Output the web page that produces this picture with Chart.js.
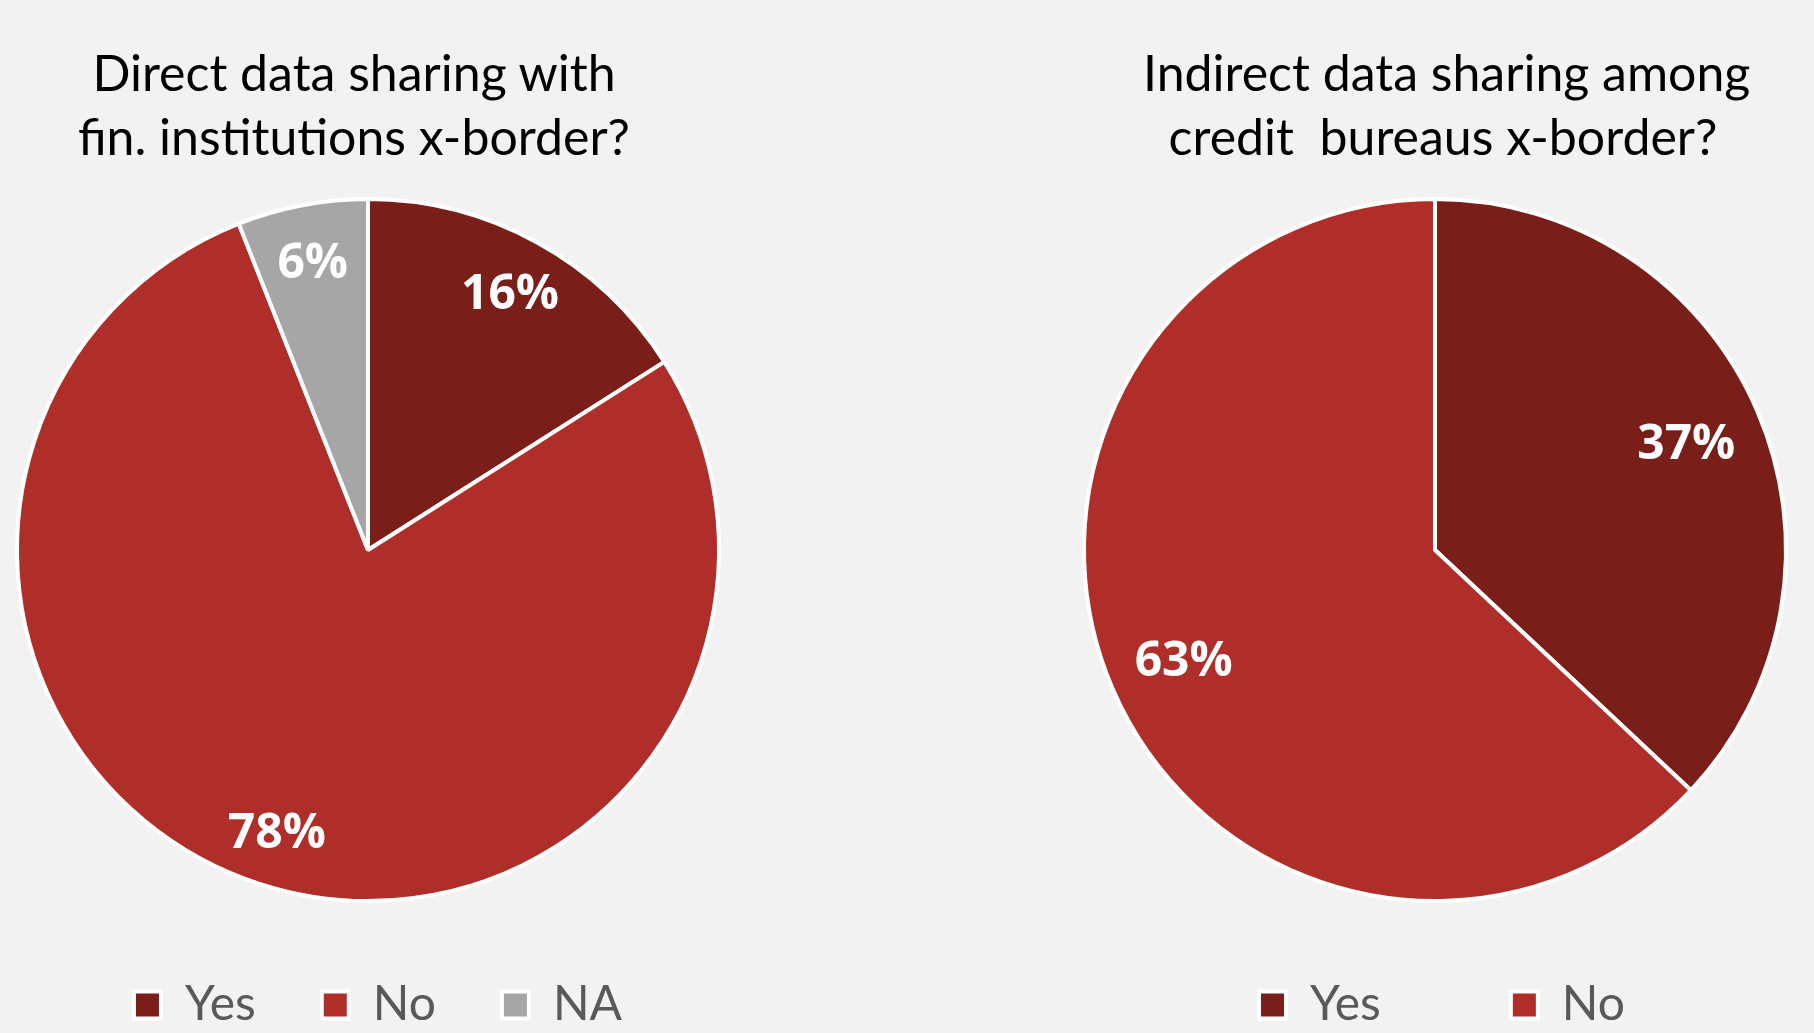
<!DOCTYPE html>
<html>
<head>
<meta charset="utf-8">
<script src="https://cdn.jsdelivr.net/npm/chart.js@4.4.1/dist/chart.umd.min.js"></script>
<style>
  html, body { margin: 0; padding: 0; background: #F2F2F2; width: 1814px; height: 1033px; overflow: hidden; }
  .wrap { position: absolute; top: 0; height: 1033px; width: 736px; }
  .title { position: absolute; top: 0; font-family: Lato, "Open Sans", sans-serif; font-size: 50px; line-height: 64px; color: #000; text-align: center; white-space: pre; }
</style>
</head>
<body>
<div class="title" id="t1" style="left:54px; width:600px; top:40px;">Direct data sharing with
fin. institutions x-border?</div>
<div class="title" id="t2" style="left:1143px; width:600px; top:40px;">Indirect data sharing among
credit  bureaus x-border?</div>
<div class="wrap" style="left:0px;"><canvas id="c1"></canvas></div>
<div class="wrap" style="left:1067px;"><canvas id="c2"></canvas></div>
<script>
// ---- data ----
const labelsDirect = ["Yes", "No", "NA"];
const valuesDirect = [16, 78, 6];
const labelsIndirect = ["Yes", "No"];
const valuesIndirect = [37, 63];
const colorsDirect = ["#7A1E1A", "#B02E29", "#A6A6A6"];
const colorsIndirect = ["#7A1E1A", "#B02E29"];

const pctLabels = {
  id: 'pctLabels',
  afterDatasetsDraw(chart, args, opts) {
    const ctx = chart.ctx;
    const meta = chart.getDatasetMeta(0);
    const data = chart.data.datasets[0].data;
    const total = data.reduce((a, b) => a + b, 0);
    ctx.save();
    ctx.fillStyle = '#FFFFFF';
    ctx.font = 'bold 48px "Open Sans", sans-serif';
    ctx.textAlign = 'center';
    ctx.textBaseline = 'middle';
    meta.data.forEach((arc, i) => {
      const p = arc.getProps(['x', 'y', 'startAngle', 'endAngle', 'outerRadius'], true);
      const mid = (p.startAngle + p.endAngle) / 2;
      const r = p.outerRadius * opts.frac;
      const txt = Math.round(data[i] / total * 100) + '%';
      ctx.fillText(txt, p.x + Math.cos(mid) * r, p.y + Math.sin(mid) * r + 4);
    });
    ctx.restore();
  }
};

// moves the built-in legend box after layout (keeps pie geometry untouched)
const legendShift = {
  id: 'legendShift',
  afterLayout(chart, args, opts) {
    const lg = chart.legend;
    if (!lg) return;
    lg.left += opts.dx; lg.right += opts.dx;
    lg.top += opts.dy; lg.bottom += opts.dy;
  }
};

function makePie(id, labels, values, colors, frac, legendPad, padBottom, dx, dy) {
  return new Chart(document.getElementById(id), {
    type: 'pie',
    data: {
      labels: labels,
      datasets: [{
        data: values,
        backgroundColor: colors,
        borderColor: '#FFFFFF',
        borderWidth: 4
      }]
    },
    options: {
      responsive: true,
      maintainAspectRatio: false,
      animation: false,
      layout: { padding: { top: 185, bottom: padBottom, left: 15, right: 15 } },
      plugins: {
        tooltip: { enabled: false },
        title: { display: false },
        pctLabels: { frac: frac },
        legendShift: { dx: dx, dy: dy },
        legend: {
          position: 'bottom',
          labels: {
            boxWidth: 27,
            boxHeight: 27,
            padding: legendPad,
            color: '#595959',
            font: { family: 'Lato, "Open Sans", sans-serif', size: 48 }
          }
        }
      }
    },
    plugins: [pctLabels, legendShift]
  });
}

makePie('c1', labelsDirect, valuesDirect, colorsDirect, 0.84, 66, -6, 10, 0);
makePie('c2', labelsIndirect, valuesIndirect, colorsIndirect, 0.78, 130, -70, 7, -64);
</script>
</body>
</html>
